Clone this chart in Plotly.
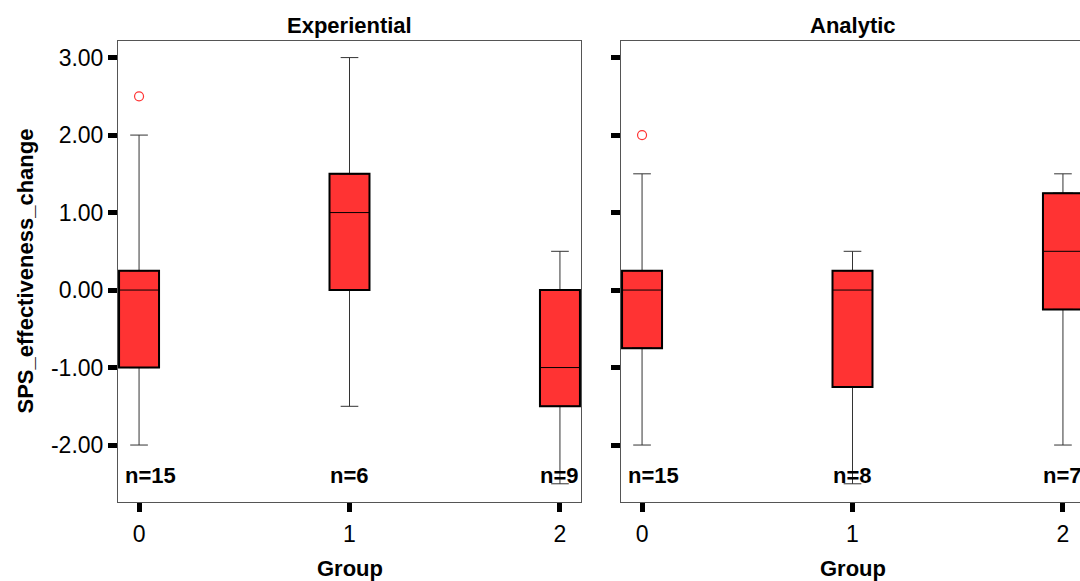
import plotly.graph_objects as go

# ---- data ----
groups = [0, 1, 2]
group_labels = ["0", "1", "2"]
panels = ["Experiential", "Analytic"]

exp_q1 = [-1.0, 0.0, -1.5]
exp_med = [0.0, 1.0, -1.0]
exp_q3 = [0.25, 1.5, 0.0]
exp_low = [-2.0, -1.5, -2.5]
exp_high = [2.0, 3.0, 0.5]
exp_n = [15, 6, 9]
exp_out_x = [0]
exp_out_y = [2.5]

ana_q1 = [-0.75, -1.25, -0.25]
ana_med = [0.0, 0.0, 0.5]
ana_q3 = [0.25, 0.25, 1.25]
ana_low = [-2.0, -2.5, -2.0]
ana_high = [1.5, 0.5, 1.5]
ana_n = [15, 8, 7]
ana_out_x = [0]
ana_out_y = [2.0]

y_ticks = [-2, -1, 0, 1, 2, 3]
y_tick_labels = ["-2.00", "-1.00", "0.00", "1.00", "2.00", "3.00"]

# ---- styling ----
FONT = "Liberation Sans, Arial, sans-serif"
RED = "#FF3333"
BOX_W = 0.19
CAP = 0.042
N_Y = -2.39
TICK_SIZE = 23
BOLD_SIZE = 22

fig = go.Figure()

panel_data = [
    (exp_q1, exp_med, exp_q3, exp_low, exp_high, exp_n, exp_out_x, exp_out_y, "x", "y"),
    (ana_q1, ana_med, ana_q3, ana_low, ana_high, ana_n, ana_out_x, ana_out_y, "x2", "y2"),
]

shapes = []
annotations = []
for pi, (q1, med, q3, lo, hi, nn, ox, oy, xa, ya) in enumerate(panel_data):
    # whiskers with caps
    wx, wy = [], []
    for g, a, b, l, h in zip(groups, q1, q3, lo, hi):
        wx += [g, g, None, g - CAP, g + CAP, None, g, g, None, g - CAP, g + CAP, None]
        wy += [b, h, None, h, h, None, a, l, None, l, l, None]
    fig.add_trace(go.Scatter(x=wx, y=wy, mode="lines", line=dict(color="#333333", width=1),
                             xaxis=xa, yaxis=ya, showlegend=False, hoverinfo="skip"))
    # boxes
    fig.add_trace(go.Box(x=groups, q1=q1, median=med, q3=q3, lowerfence=q1, upperfence=q3,
                         width=BOX_W, fillcolor=RED, line=dict(color="black", width=1),
                         boxpoints=False, xaxis=xa, yaxis=ya, showlegend=False))
    # thicker box outlines
    for g, a, b in zip(groups, q1, q3):
        shapes.append(dict(type="rect", xref=xa, yref=ya, x0=g - BOX_W / 2, x1=g + BOX_W / 2,
                           y0=a, y1=b, line=dict(color="black", width=2), layer="above"))
    # outliers
    fig.add_trace(go.Scatter(x=ox, y=oy, mode="markers",
                             marker=dict(symbol="circle-open", size=9, color=RED, line=dict(width=1.2)),
                             xaxis=xa, yaxis=ya, showlegend=False))
    # n labels
    for g, n in zip(groups, nn):
        if g == 0:
            annotations.append(dict(x=-0.1, y=N_Y, xref=xa, yref=ya, text=f"<b>n={n}</b>",
                                    showarrow=False, xanchor="left", xshift=5, yanchor="middle",
                                    font=dict(family=FONT, size=BOLD_SIZE, color="black")))
        else:
            annotations.append(dict(x=g, y=N_Y, xref=xa, yref=ya, text=f"<b>n={n}</b>",
                                    showarrow=False, xanchor="center", yanchor="middle",
                                    font=dict(family=FONT, size=BOLD_SIZE, color="black")))
    # panel titles
    annotations.append(dict(x=1, y=1, xref=xa, yref="paper", text=f"<b>{panels[pi]}</b>",
                            showarrow=False, xanchor="center", yanchor="middle", yshift=16,
                            font=dict(family=FONT, size=BOLD_SIZE, color="black")))
    # x-axis titles
    annotations.append(dict(x=1, y=0, xref=xa, yref="paper", text="<b>Group</b>",
                            showarrow=False, xanchor="center", yanchor="middle", yshift=-66,
                            font=dict(family=FONT, size=BOLD_SIZE, color="black")))

annotations.append(dict(x=0, y=0.5, xref="paper", yref="paper", text="<b>SPS_effectiveness_change</b>",
                        showarrow=False, xanchor="center", yanchor="middle", xshift=25, textangle=-90,
                        font=dict(family=FONT, size=BOLD_SIZE, color="black")))

W, H = 1080, 581
axis_common = dict(showgrid=False, zeroline=False, showline=True, linecolor="#555555", linewidth=1,
                   ticks="outside", ticklen=9, tickwidth=5, tickcolor="black",
                   tickfont=dict(family=FONT, size=TICK_SIZE, color="black"))

fig.update_layout(
    width=W, height=H,
    margin=dict(l=0, r=0, t=41, b=79),
    paper_bgcolor="white", plot_bgcolor="white",
    showlegend=False,
    shapes=shapes, annotations=annotations,
    xaxis=dict(domain=[118 / W, 581 / W], range=[-0.1, 2.1], tickvals=groups, ticktext=group_labels,
               mirror=True, ticklabelstandoff=2, **axis_common),
    xaxis2=dict(domain=[621 / W, 1.0], range=[-0.1, -0.1 + 459 / 210.45], tickvals=groups,
                ticktext=group_labels, mirror=True, ticklabelstandoff=2, **axis_common),
    yaxis=dict(range=[-2.735, 3.214], tickvals=y_ticks, ticktext=y_tick_labels, mirror=True,
               anchor="x", **axis_common),
    yaxis2=dict(range=[-2.735, 3.214], tickvals=y_ticks, ticktext=y_tick_labels, mirror=False,
                showticklabels=False, anchor="x2", **axis_common),
)

fig.write_html("out.html")
